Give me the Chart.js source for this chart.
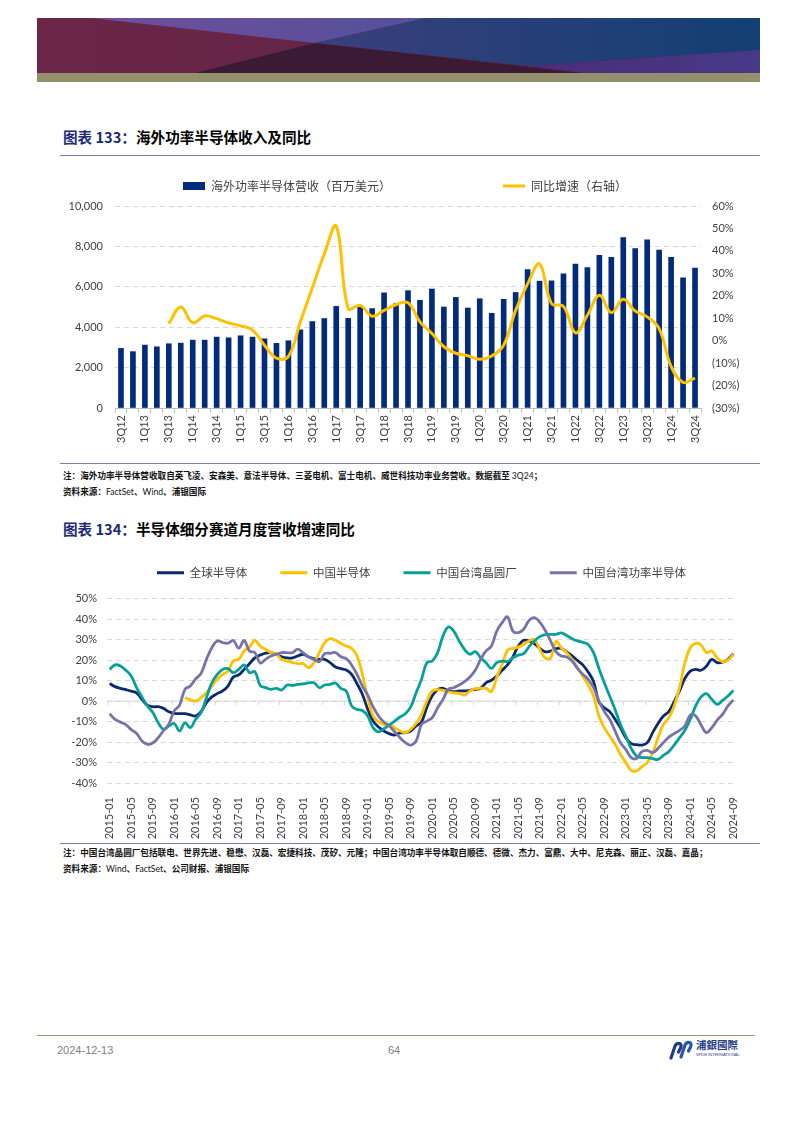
<!DOCTYPE html>
<html>
<head>
<meta charset="utf-8">
<script src="https://cdn.jsdelivr.net/npm/chart.js@4.4.1/dist/chart.umd.min.js"></script>
<style>
  html, body { margin: 0; padding: 0; background: #fff; }
  body { width: 793px; height: 1122px; position: relative; overflow: hidden; font-family: "Noto Sans CJK SC", sans-serif; }
  .abs { position: absolute; }
  .title { font-size: 14.6px; font-weight: 700; color: #000; white-space: nowrap; line-height: 1; }
  .title .num { color: #1f2a78; }
  .rule { position: absolute; left: 60px; width: 700px; height: 0; border-top: 1.5px solid #7b7fa8; }
  .note { font-size: 8.6px; color: #111; white-space: nowrap; font-weight: 700; line-height: 1; }
  .note .lat { font-family: Lato, "Liberation Sans", sans-serif; font-weight: 400; }
  .foot { font-family: "Liberation Sans", Arial, sans-serif; font-size: 11px; color: #808080; line-height: 1; }
</style>
</head>
<body>

<!-- header banner -->
<svg class="abs" style="left:37px;top:18px" width="723" height="64" viewBox="0 0 723 64">
  <defs>
    <linearGradient id="gMaroon" x1="0" x2="1" y1="0" y2="0">
      <stop offset="0" stop-color="#6c2649"/><stop offset="1" stop-color="#572446"/>
    </linearGradient>
    <linearGradient id="gPurple" x1="0" x2="1" y1="0" y2="0">
      <stop offset="0" stop-color="#6e4f9c"/><stop offset="1" stop-color="#55509a"/>
    </linearGradient>
    <linearGradient id="gNavy" x1="0" x2="1" y1="0" y2="0">
      <stop offset="0" stop-color="#3a3f7c"/><stop offset="1" stop-color="#123f74"/>
    </linearGradient>
    <linearGradient id="gLow" x1="0" x2="1" y1="0" y2="0">
      <stop offset="0" stop-color="#4a2c78"/><stop offset="1" stop-color="#473a88"/>
    </linearGradient>
  </defs>
  <rect x="0" y="0" width="723" height="55" fill="url(#gMaroon)"/>
  <polygon points="55,0 278,25 389,0" fill="url(#gPurple)"/>
  <polygon points="389,0 723,0 723,32 489,48 278,25" fill="url(#gNavy)"/>
  <polygon points="489,48 723,32 723,55 546,55" fill="url(#gLow)"/>
  <polygon points="158,55 278,25 546,55" fill="#3b1a35"/>
  <rect x="0" y="55" width="723" height="9" fill="#948f6c"/>
</svg>

<!-- chart 133 -->
<div class="abs title" style="left:63px;top:130px"><span class="num">图表 133：</span>海外功率半导体收入及同比</div>
<div class="rule" style="top:155px"></div>
<div class="abs" style="left:50px;top:170px;width:710px;height:290px"><canvas id="c1" width="710" height="290"></canvas></div>
<div class="rule" style="top:463px"></div>
<div class="abs note" style="left:63px;top:471px">注：海外功率半导体营收取自英飞凌、安森美、意法半导体、三菱电机、富士电机、威世科技功率业务营收。数据截至 <span class="lat">3Q24</span>；</div>
<div class="abs note" style="left:63px;top:487px">资料来源：<span class="lat">FactSet</span>、<span class="lat">Wind</span>、浦银国际</div>

<!-- chart 134 -->
<div class="abs title" style="left:63px;top:522px"><span class="num">图表 134：</span>半导体细分赛道月度营收增速同比</div>
<div class="abs" style="left:50px;top:557px;width:710px;height:286px"><canvas id="c2" width="710" height="286"></canvas></div>
<div class="rule" style="top:843px"></div>
<div class="abs note" style="left:63px;top:848px">注：中国台湾晶圆厂包括联电、世界先进、稳懋、汉磊、宏捷科技、茂矽、元隆；中国台湾功率半导体取自顺德、德微、杰力、富鼎、大中、尼克森、丽正、汉磊、嘉晶；</div>
<div class="abs note" style="left:63px;top:864px">资料来源：<span class="lat">Wind</span>、<span class="lat">FactSet</span>、公司财报、浦银国际</div>

<!-- footer -->
<div class="abs" style="left:37px;top:1035px;width:718px;height:0;border-top:1px solid #9b9672"></div>
<div class="abs foot" style="left:57px;top:1045px">2024-12-13</div>
<div class="abs foot" style="left:388px;top:1045px">64</div>
<svg class="abs" style="left:668px;top:1040px" width="26" height="20" viewBox="0 0 26 20">
  <path d="M3 18 L7 6 Q8.5 3 11.5 3.5 Q14 4.5 12.5 8 L10.5 12" stroke="#1f3c88" stroke-width="3.2" fill="none" stroke-linecap="round"/>
  <path d="M13 17 L17 5 Q18.5 2 21.5 2.5 Q24 3.5 22.5 7 L20.5 11" stroke="#2a56a8" stroke-width="3.2" fill="none" stroke-linecap="round"/>
</svg>
<div class="abs" style="left:696px;top:1040px;font-size:10.5px;font-weight:700;color:#1f3c88;line-height:1;font-family:'Noto Sans CJK TC',sans-serif">浦銀國際</div>
<div class="abs" style="left:696px;top:1053px;font-size:4px;color:#1f3c88;line-height:1;font-family:'Liberation Sans',sans-serif">SPDB INTERNATIONAL</div>

<script>
// ---------- 图表 133 ----------
const quarters = [
  "3Q12","4Q12","1Q13","2Q13","3Q13","4Q13","1Q14","2Q14","3Q14","4Q14",
  "1Q15","2Q15","3Q15","4Q15","1Q16","2Q16","3Q16","4Q16","1Q17","2Q17",
  "3Q17","4Q17","1Q18","2Q18","3Q18","4Q18","1Q19","2Q19","3Q19","4Q19",
  "1Q20","2Q20","3Q20","4Q20","1Q21","2Q21","3Q21","4Q21","1Q22","2Q22",
  "3Q22","4Q22","1Q23","2Q23","3Q23","4Q23","1Q24","2Q24","3Q24"
];
// 海外功率半导体营收（百万美元）
const revenue = [
  2950, 2790, 3115, 3030, 3180, 3210, 3360, 3360, 3510, 3475,
  3575, 3510, 3425, 3200, 3330, 3870, 4280, 4430, 5030, 4440,
  4980, 4920, 5700, 5160, 5810, 5330, 5890, 5000, 5475, 4950,
  5410, 4690, 5380, 5720, 6850, 6280, 6295, 6640, 7130, 6950,
  7560, 7460, 8440, 7890, 8330, 7820, 7460, 6440, 6930
];
// 同比增速 (%)
const yoyGrowth = [
  null, null, null, null, 7.6, 15, 8, 11, 9.8, 7.9,
  6.6, 4.7, -2, -7.8, -7, 8.4, 23.6, 38.6, 51, 14.3,
  15.7, 10.9, 13.5, 16, 16.9, 8.4, 3.2, -2.7, -5.6, -6.7,
  -8.3, -6.8, -2, 13.5, 25.3, 34.2, 16.5, 15.3, 3.5, 11.3,
  20.2, 12.5, 18.4, 13.2, 10.6, 5.4, -11.5, -18.6, -16.7
];

// ---------- 图表 134 ----------
const months = [
  "2015-01","2015-02","2015-03","2015-04","2015-05","2015-06","2015-07","2015-08","2015-09","2015-10","2015-11","2015-12",
  "2016-01","2016-02","2016-03","2016-04","2016-05","2016-06","2016-07","2016-08","2016-09","2016-10","2016-11","2016-12",
  "2017-01","2017-02","2017-03","2017-04","2017-05","2017-06","2017-07","2017-08","2017-09","2017-10","2017-11","2017-12",
  "2018-01","2018-02","2018-03","2018-04","2018-05","2018-06","2018-07","2018-08","2018-09","2018-10","2018-11","2018-12",
  "2019-01","2019-02","2019-03","2019-04","2019-05","2019-06","2019-07","2019-08","2019-09","2019-10","2019-11","2019-12",
  "2020-01","2020-02","2020-03","2020-04","2020-05","2020-06","2020-07","2020-08","2020-09","2020-10","2020-11","2020-12",
  "2021-01","2021-02","2021-03","2021-04","2021-05","2021-06","2021-07","2021-08","2021-09","2021-10","2021-11","2021-12",
  "2022-01","2022-02","2022-03","2022-04","2022-05","2022-06","2022-07","2022-08","2022-09","2022-10","2022-11","2022-12",
  "2023-01","2023-02","2023-03","2023-04","2023-05","2023-06","2023-07","2023-08","2023-09","2023-10","2023-11","2023-12",
  "2024-01","2024-02","2024-03","2024-04","2024-05","2024-06","2024-07","2024-08","2024-09"
];
const globalSemi = [
  8.5, 7, 6.2, 5.5, 4.8, 4, 0.8, -2, -2.8, -2.8, -3.6, -5.2,
  -6, -6.2, -6.2, -6.8, -7.3, -5.2, -0.8, 2, 3.6, 4.9, 7.3, 11.7,
  12.7, 15.4, 18.2, 21, 22.4, 23.4, 23.6, 22.8, 21.6, 21, 21, 22,
  22.8, 21.5, 20.7, 20.3, 20.3, 18.7, 16.6, 15.8, 15.1, 13, 8.5, 3.3,
  -4, -9.8, -12.7, -14.6, -15.9, -16.6, -15.6, -15.4, -14.6, -12.2, -10.2, -3,
  2.5, 5.5, 6.2, 4.9, 4.6, 4.9, 4.9, 5.2, 5.7, 6.2, 8.9, 10.1,
  12.2, 15, 17.6, 21.5, 26.8, 29.6, 29.3, 28, 25.7, 24, 24.4, 25.5,
  25.7, 23.9, 22, 19.8, 17.6, 14.1, 9.5, -0.5, -3.3, -5.2, -8.9, -13,
  -17.9, -20.8, -21.3, -21.5, -20.3, -15.4, -11, -7.3, -5.2, -0.3, 4.9, 11,
  14.6, 15.4, 15, 17, 20.3, 18.7, 19, 20.3, 23
];
const chinaSemi = [
  null, null, null, null, null, null, null, null, null, null, null, null,
  null, null, 1.6, 0.6, 0, 1.6, 4, 7.3, 10.6, 13, 14.6, 19.5,
  20.3, 24.4, 26.3, 29.6, 26.8, 25.2, 23.6, 22.8, 20.3, 19.5, 18.7, 18.2,
  18.2, 16.3, 18.7, 23.6, 28.5, 30.4, 29.6, 28.1, 26.8, 25.7, 22, 13,
  1.6, -7.3, -10.1, -11.4, -11.7, -13, -14.6, -15.4, -13.8, -11, -6.5, 0,
  4.9, 5.5, 5.2, 4.4, 4, 3.7, 2.9, 4.9, 6, 6.2, 6.2, 4.6,
  11.7, 17.9, 24.7, 25.7, 26.3, 27.6, 29.3, 30, 25.2, 21, 21, 29,
  26, 23.6, 20.3, 16.3, 12.2, 7.8, 2.4, -7.3, -13, -17.1, -21.1, -26,
  -30, -33.8, -34.1, -32, -30, -25.2, -17.9, -11.4, -8.1, -2.4, 6.5, 18.7,
  26, 28.1, 27.3, 23.6, 24.4, 21, 19.2, 20, 22.8
];
const twFoundry = [
  15.4, 17.6, 17.1, 15, 12.2, 6.5, 2, -2.4, -5.5, -10.5, -13.8, -12.2,
  -11, -14.6, -10.6, -13, -8.9, -5.7, 1.6, 8.9, 13, 15.4, 15.8, 13.8,
  15.4, 17.6, 13.8, 14.3, 7.6, 6.5, 5.7, 6.2, 5.4, 7.8, 7.6, 8.1,
  8.3, 8.8, 8.9, 6.5, 7.8, 8.1, 8.8, 6.2, 4.9, -2.4, -4.1, -4.6,
  -7.3, -13, -15.1, -13.5, -11.7, -9.8, -7.8, -6.2, -2.9, 4, 10.6, 18.7,
  19.5, 23.6, 31.7, 36.1, 34.1, 29.3, 25.2, 22.8, 24.1, 21.1, 18.7, 15.9,
  18.7, 19.5, 19.2, 21.1, 22.4, 23.1, 26.5, 29.3, 31.4, 32.4, 32.5, 32.5,
  33.2, 32, 30.4, 29.3, 28.6, 27.6, 23.6, 15.9, 8.9, 2.4, -4.1, -11.4,
  -17.1, -23.1, -26.8, -27.6, -27.6, -28.1, -28.5, -26.5, -24.7, -21.5, -17.9, -14.3,
  -8.9, -2.4, 2, 3.6, 0.8, -1.6, 0.3, 2.4, 5.2
];
const twPower = [
  -6.2, -9, -10.3, -11.5, -14, -15.8, -19.5, -21.1, -20.5, -18, -14.5, -11.3,
  -4.8, -2, 5.7, 7.3, 10.8, 13.5, 20.3, 26, 29.3, 28.5, 28.2, 29.5,
  25.8, 29.5, 24.4, 23.6, 18.5, 20.3, 22, 22.8, 23.6, 23.6, 23.6, 25.3,
  23.5, 21.5, 20.3, 19.2, 23.1, 23.3, 23.6, 21.6, 20.7, 17.6, 13, 7.3,
  2.9, -2.9, -7.3, -10.2, -12.2, -15, -17.9, -20.3, -21.5, -19.5, -11.4, -9.8,
  -8.1, -3.3, 0.8, 5.7, 6.5, 7.8, 9.4, 11.7, 15, 20.3, 24.4, 26.8,
  34.1, 38.2, 41, 34.1, 33.3, 35, 39.3, 40.7, 38.5, 34.5, 29.3, 24.1,
  22, 21.5, 19.5, 15.9, 13, 10.6, 6.5, 0, -5.2, -8.9, -14.6, -20.3,
  -23.6, -27.6, -28, -24.7, -24.1, -25.2, -23.1, -20.3, -17.6, -15.9, -14.3, -12.2,
  -6.8, -7.3, -11.7, -15.4, -13, -9.3, -6.5, -2.4, 0.5
];

const C = {
  navyBar: "#022b7b",
  gold: "#ffc000",
  navy: "#0b2a6e",
  teal: "#06a09a",
  purple: "#7673aa",
  text: "#404040",
  grid: "#d9d9d9",
  axis: "#bfbfbf",
};
const tickFont = { family: "Lato, 'Liberation Sans', sans-serif", size: 11 };
const cjkFamily = "'Noto Sans CJK SC', sans-serif";

// extra space under the legend
function legendGap(gap) {
  return {
    id: "legendGap",
    beforeInit(chart) {
      const fit = chart.legend.fit;
      chart.legend.fit = function () {
        fit.call(this);
        this.height += gap;
      };
    },
  };
}

// widen the gap after a legend label with full-width spaces
function spacedLabels(extra) {
  return (chart) => {
    const items = Chart.defaults.plugins.legend.labels.generateLabels(chart);
    items.forEach((it) => {
      const n = extra[it.datasetIndex] || 0;
      if (n) it.text += "\u3000".repeat(n);
    });
    return items;
  };
}

// solid zero line with tick marks every 4 months
const zeroAxis = {
  id: "zeroAxis",
  beforeDatasetsDraw(chart) {
    const { ctx, chartArea, scales: { x, y } } = chart;
    const y0 = y.getPixelForValue(0);
    const half = (x.getPixelForValue(1) - x.getPixelForValue(0)) / 2;
    ctx.save();
    ctx.strokeStyle = C.grid;
    ctx.lineWidth = 1;
    ctx.beginPath();
    ctx.moveTo(chartArea.left, y0);
    ctx.lineTo(chartArea.right, y0);
    for (let i = 0; i < months.length; i += 4) {
      const px = Math.round(x.getPixelForValue(i) - half) + 0.5;
      ctx.moveTo(px, y0);
      ctx.lineTo(px, y0 + 4);
    }
    ctx.stroke();
    ctx.restore();
  },
};

Chart.defaults.color = C.text;
Chart.defaults.animation = false;

new Chart(document.getElementById("c1"), {
  type: "bar",
  data: {
    labels: quarters,
    datasets: [
      {
        type: "bar",
        label: "海外功率半导体营收（百万美元）",
        data: revenue,
        backgroundColor: C.navyBar,
        borderWidth: 0,
        barThickness: 5,
        yAxisID: "y",
        order: 1,
        pointStyle: "rect",
      },
      {
        type: "line",
        label: "同比增速（右轴）",
        data: yoyGrowth,
        borderColor: C.gold,
        backgroundColor: C.gold,
        borderWidth: 3,
        tension: 0.4,
        pointRadius: 0,
        yAxisID: "y1",
        order: 0,
        pointStyle: "line",
      },
    ],
  },
  options: {
    responsive: false,
    layout: { padding: 0 },
    plugins: {
      legend: {
        position: "top",
        labels: {
          usePointStyle: true,
          pointStyleWidth: 22,
          boxHeight: 8,
          padding: 10,
          color: C.text,
          font: { family: cjkFamily, size: 12 },
          sort: (a, b) => a.datasetIndex - b.datasetIndex,
          generateLabels: spacedLabels({ 0: 9 }),
        },
      },
      tooltip: { enabled: false },
    },
    scales: {
      x: {
        offset: true,
        grid: { display: true, drawOnChartArea: false, drawTicks: true, tickLength: 5, color: C.axis, offset: true },
        border: { display: true, color: C.axis },
        ticks: {
          autoSkip: false,
          minRotation: 90,
          maxRotation: 90,
          padding: 2,
          color: C.text,
          font: tickFont,
          callback: (v, i) => (i % 2 === 0 ? quarters[i] : ""),
        },
        afterFit: (s) => { s.height = 52; },
      },
      y: {
        position: "left",
        min: 0,
        max: 10000,
        ticks: { stepSize: 2000, padding: 12, color: C.text, font: tickFont, callback: (v) => v.toLocaleString("en-US") },
        grid: { color: C.grid, drawTicks: false },
        border: { display: false, dash: [5, 4] },
        afterFit: (s) => { s.width = 65; },
      },
      y1: {
        position: "right",
        min: -30,
        max: 60,
        ticks: { stepSize: 10, padding: 11, color: C.text, font: tickFont, callback: (v) => (v < 0 ? `(${-v}%)` : `${v}%`) },
        grid: { drawOnChartArea: false, drawTicks: false },
        border: { display: false },
        afterFit: (s) => { s.width = 59; },
      },
    },
  },
  plugins: [legendGap(4)],
});

const lineDefaults = { borderWidth: 2.8, tension: 0.4, pointRadius: 0, pointStyle: "line" };

new Chart(document.getElementById("c2"), {
  type: "line",
  data: {
    labels: months,
    datasets: [
      { ...lineDefaults, label: "全球半导体", data: globalSemi, borderColor: C.navy, backgroundColor: C.navy, order: 4 },
      { ...lineDefaults, label: "中国半导体", data: chinaSemi, borderColor: C.gold, backgroundColor: C.gold, order: 3 },
      { ...lineDefaults, label: "中国台湾晶圆厂", data: twFoundry, borderColor: C.teal, backgroundColor: C.teal, order: 2 },
      { ...lineDefaults, label: "中国台湾功率半导体", data: twPower, borderColor: C.purple, backgroundColor: C.purple, order: 1 },
    ],
  },
  options: {
    responsive: false,
    layout: { padding: { right: 24 } },
    plugins: {
      legend: {
        position: "top",
        fullSize: false, // centre the legend over the plot area
        labels: {
          usePointStyle: true,
          pointStyleWidth: 27,
          boxHeight: 8,
          padding: 10,
          color: C.text,
          font: { family: cjkFamily, size: 11.5 },
          sort: (a, b) => a.datasetIndex - b.datasetIndex,
          generateLabels: spacedLabels({ 0: 2, 1: 2, 2: 2 }),
        },
      },
      tooltip: { enabled: false },
    },
    scales: {
      x: {
        offset: true,
        grid: { display: false },
        border: { display: false },
        ticks: {
          autoSkip: false,
          minRotation: 90,
          maxRotation: 90,
          padding: 6,
          color: C.text,
          font: tickFont,
          callback: (v, i) => (i % 4 === 0 ? months[i] : ""),
        },
        afterFit: (s) => { s.height = 60; },
      },
      y: {
        min: -40,
        max: 50,
        ticks: { stepSize: 10, padding: 10, color: C.text, font: tickFont, callback: (v) => v + "%" },
        grid: { color: C.grid, drawTicks: false },
        border: { display: false, dash: [5, 4] },
        afterFit: (s) => { s.width = 57; },
      },
    },
  },
  plugins: [legendGap(10), zeroAxis],
});
</script>
</body>
</html>
